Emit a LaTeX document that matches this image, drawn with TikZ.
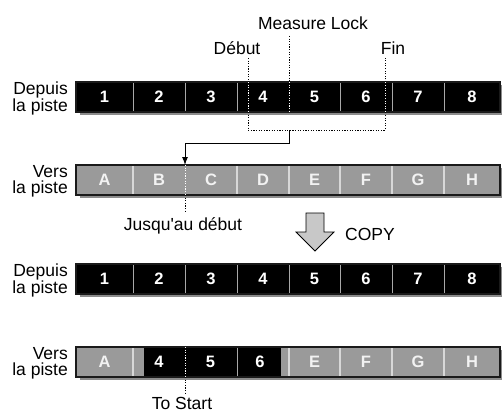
\documentclass[tikz,border=0pt]{standalone}
\usepackage{fontspec}
\newfontfamily\hv{Liberation Sans}
\usetikzlibrary{arrows.meta}
\definecolor{grayfill}{HTML}{9A9A9A}
\definecolor{grayletter}{HTML}{F2F2F2}
\definecolor{graydivc}{HTML}{D8D8D8}
\definecolor{blkdivc}{HTML}{A8A8A8}
\definecolor{shadowc}{HTML}{8C8C8C}
\definecolor{outc}{HTML}{1A1A1A}
\definecolor{copyfill}{HTML}{C8C8C8}
\begin{document}
\begin{tikzpicture}[x=1pt,y=-1pt,
  font=\hv\fontsize{17.5}{16}\selectfont,
  cellbase/.style={inner sep=0pt, outer sep=0pt, minimum height=30pt,
    font=\hv\bfseries\fontsize{16.5}{16.5}\selectfont},
  blkcell/.style={cellbase, fill=black, text=white},
  grycell/.style={cellbase, fill=grayfill, text=grayletter},
  blkdiv/.style={draw=blkdivc, line width=1pt},
  grydiv/.style={draw=graydivc, line width=1.2pt},
  baroutline/.style={draw=outc, line width=1.3pt},
  barshadow/.style={fill=shadowc},
  dotline/.style={line width=1pt, dash pattern=on 1.1pt off 1.5pt},
  dotwhite/.style={dotline, draw=white},
  conn/.style={line width=1pt, -{Latex[length=8pt,width=6pt]}},
  lbl/.style={inner sep=0pt, anchor=base},
  sidelbl/.style={inner sep=0pt, anchor=east, align=right},
  copyarrow/.style={draw=black, line width=0.8pt, fill=copyfill, line join=miter}
]
\useasboundingbox (0,0) rectangle (502,412);

% ---------- Row 1 : Depuis la piste ----------
\fill[barshadow] (80,85) rectangle (505,115);
\foreach \a/\b/\t [count=\i] in {76/133/1,133/185/2,185/237/3,237/289/4,289/340/5,340/392/6,392/444/7,444/500/8}
  \node[blkcell, minimum width={\b-\a}] (ra\i) at ({(\a+\b)/2},97) {\t};
\foreach \i in {1,2,3,5,6,7}
  \draw[blkdiv] (ra\i.north east) -- (ra\i.south east);
\draw[baroutline] (ra1.north west) rectangle (ra8.south east);
\node[sidelbl] (la) at (68,98.5) {Depuis\\la piste};

% ---------- Row 2 : Vers la piste ----------
\fill[barshadow] (80,168) rectangle (505,198);
\foreach \a/\b/\t [count=\i] in {76/133/A,133/185/B,185/237/C,237/289/D,289/340/E,340/392/F,392/444/G,444/500/H}
  \node[grycell, minimum width={\b-\a}] (rb\i) at ({(\a+\b)/2},180) {\t};
\foreach \i in {1,3,4,5,6,7}
  \draw[grydiv] (rb\i.north east) -- (rb\i.south east);
\draw[baroutline] (rb1.north west) rectangle (rb8.south east);
\node[sidelbl] (lb) at (68,181.5) {Vers\\la piste};

% ---------- Row 3 : Depuis la piste ----------
\fill[barshadow] (80,267) rectangle (505,297);
\foreach \a/\b/\t [count=\i] in {76/133/1,133/185/2,185/237/3,237/289/4,289/340/5,340/392/6,392/444/7,444/500/8}
  \node[blkcell, minimum width={\b-\a}] (rc\i) at ({(\a+\b)/2},279) {\t};
\foreach \i in {1,...,7}
  \draw[blkdiv] (rc\i.north east) -- (rc\i.south east);
\draw[baroutline] (rc1.north west) rectangle (rc8.south east);
\node[sidelbl] (lc) at (68,280.5) {Depuis\\la piste};

% ---------- Row 4 : Vers la piste (result) ----------
\fill[barshadow] (80,350) rectangle (505,380);
\foreach \a/\b/\t [count=\i] in {76/133/A,133/185/{},185/237/{},237/289/{},289/340/E,340/392/F,392/444/G,444/500/H}
  \node[grycell, minimum width={\b-\a}] (rd\i) at ({(\a+\b)/2},362) {\t};
\foreach \i in {1,4,5,6,7}
  \draw[grydiv] (rd\i.north east) -- (rd\i.south east);
\node[blkcell, minimum width=137] (cp) at (212.5,362) {};
\draw[blkdiv] (rd3.north east) -- (rd3.south east);
\node[blkcell, fill=none] (cp4) at (159,362) {4};
\node[blkcell, fill=none] (cp5) at (210.5,362) {5};
\node[blkcell, fill=none] (cp6) at (260,362) {6};
\draw[baroutline] (rd1.north west) rectangle (rd8.south east);
\node[sidelbl] (ld) at (68,363.5) {Vers\\la piste};

% ---------- Début / Fin bracket and Measure Lock ----------
\coordinate (debT) at (248,58);
\coordinate (debA) at (248,82);
\coordinate (debB) at (248,112);
\coordinate (finT) at (385,58);
\coordinate (finA) at (385,82);
\coordinate (finB) at (385,112);
\coordinate (lockT) at (289,36);
\coordinate (lockA) at (289,82);
\coordinate (lockB) at (289,112);
\coordinate (lockbot) at (289,130);
\draw[dotline] (debT) -- (debA);
\draw[dotwhite] (debA) -- (debB);
\draw[dotline] (debB) -- (248,130) -- (385,130) -- (finB);
\draw[dotwhite] (finB) -- (finA);
\draw[dotline] (finA) -- (finT);
\draw[dotline] (lockT) -- (lockA);
\draw[dotwhite] (lockA) -- (lockB);

\node[lbl] (tlock) at (313,29.5) {Measure Lock};
\node[lbl] (tdeb) at (237,54.5) {Début};
\node[lbl] (tfin) at (393,54.5) {Fin};

% connector to "Jusqu'au début"
\draw[conn] (lockbot) -- ++(0,13) -| (rb2.north east);

% dotted at To-Start position, row 2
\coordinate (jb) at (185,212);
\draw[dotwhite] (rb2.north east) -- (rb2.south east);
\draw[dotline] (rb2.south east) -- (jb);
\node[lbl] (tjus) at (183,230) {Jusqu'au début};

% COPY arrow
\draw[copyarrow] (306,213) -- (324,213) -- (324,232) -- (334,232) -- (315,251) -- (296,232) -- (306,232) -- cycle;
\node[lbl, anchor=base west] (tcopy) at (345,240.5) {COPY};

% dotted at To-Start position, row 4
\coordinate (ts) at (185,394);
\draw[dotwhite] (rd2.north east) -- (rd2.south east);
\draw[dotline] (rd2.south east) -- (ts);
\node[lbl] (tstart) at (182,409) {To Start};
\end{tikzpicture}
\end{document}
